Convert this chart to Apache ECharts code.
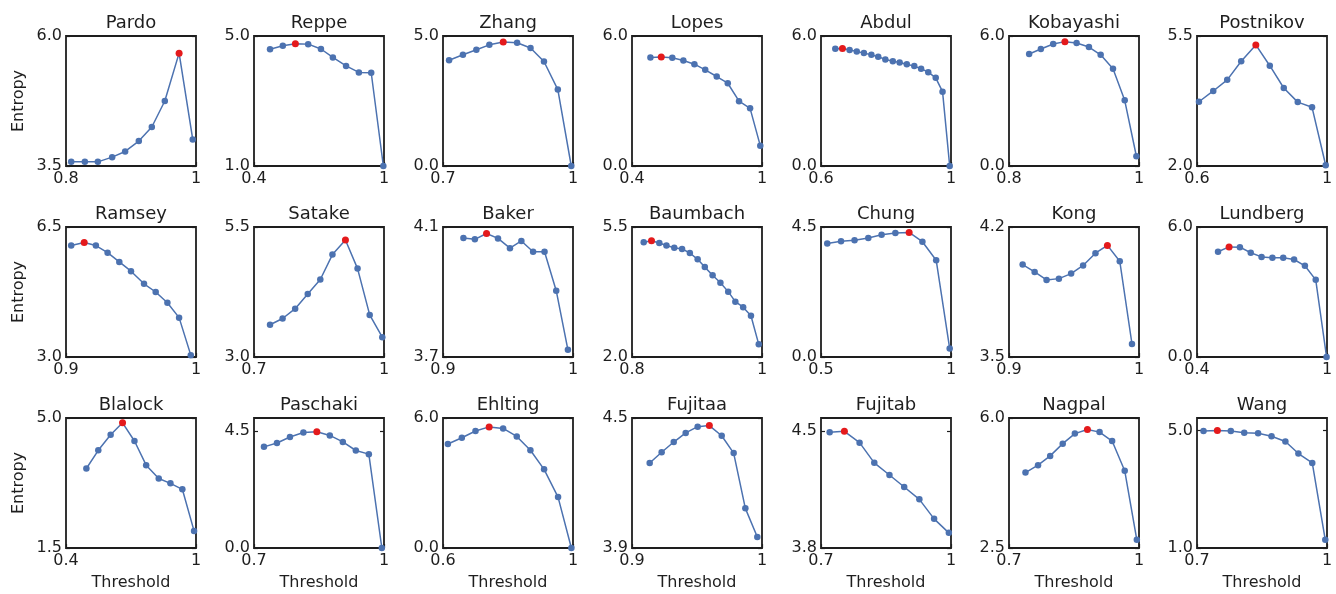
<!DOCTYPE html>
<html>
<head>
<meta charset="utf-8">
<script src="https://cdn.jsdelivr.net/npm/echarts@6/dist/echarts.min.js"></script>
<style>
  html, body { margin: 0; padding: 0; background: #fff; }
  #chart { width: 1336px; height: 594px; }
</style>
</head>
<body>
<div id="chart"></div>
<script>
// Entropy of each dataset as the similarity threshold varies.
const panelNames = [
  'Pardo', 'Reppe', 'Zhang', 'Lopes', 'Abdul', 'Kobayashi', 'Postnikov',
  'Ramsey', 'Satake', 'Baker', 'Baumbach', 'Chung', 'Kong', 'Lundberg',
  'Blalock', 'Paschaki', 'Ehlting', 'Fujitaa', 'Fujitab', 'Nagpal', 'Wang'
];

// Axis ranges: lower x bound, lower y bound, highest labelled y tick, top of y range
const xMin = [0.8, 0.4, 0.7, 0.4, 0.6, 0.8, 0.6,
              0.9, 0.7, 0.9, 0.8, 0.5, 0.9, 0.4,
              0.4, 0.7, 0.6, 0.9, 0.7, 0.7, 0.7];
const yMin = [3.5, 1.0, 0.0, 0.0, 0.0, 0.0, 2.0,
              3.0, 3.0, 3.7, 2.0, 0.0, 3.5, 0.0,
              1.5, 0.0, 0.0, 3.9, 3.8, 2.5, 1.0];
const yTickMax = [6.0, 5.0, 5.0, 6.0, 6.0, 6.0, 5.5,
                  6.5, 5.5, 4.1, 5.5, 4.5, 4.2, 6.0,
                  5.0, 4.5, 6.0, 4.5, 4.5, 6.0, 5.0];
const yAxisMax = [6.0, 5.0, 5.0, 6.0, 6.0, 6.0, 5.5,
                  6.5, 5.5, 4.1, 5.5, 4.5, 4.2, 6.0,
                  5.0, 5.0, 6.0, 4.5, 4.58, 6.0, 5.43];

const thresholds = [
  [0.808, 0.829, 0.849, 0.871, 0.891, 0.912, 0.932, 0.952, 0.974, 0.995],
  [0.474, 0.533, 0.591, 0.650, 0.709, 0.764, 0.825, 0.884, 0.941, 0.997],
  [0.714, 0.746, 0.777, 0.807, 0.839, 0.871, 0.902, 0.933, 0.965, 0.996],
  [0.485, 0.535, 0.586, 0.637, 0.688, 0.738, 0.791, 0.842, 0.894, 0.945, 0.992],
  [0.644, 0.666, 0.688, 0.710, 0.732, 0.755, 0.776, 0.798, 0.821, 0.842, 0.864, 0.887, 0.908, 0.930, 0.953, 0.974, 0.996],
  [0.831, 0.849, 0.868, 0.886, 0.904, 0.923, 0.941, 0.960, 0.978, 0.996],
  [0.606, 0.650, 0.693, 0.736, 0.781, 0.824, 0.867, 0.910, 0.954, 0.996],
  [0.904, 0.914, 0.923, 0.932, 0.941, 0.950, 0.960, 0.969, 0.978, 0.987, 0.996],
  [0.737, 0.766, 0.795, 0.824, 0.853, 0.881, 0.911, 0.939, 0.967, 0.996],
  [0.9157, 0.9245, 0.9335, 0.9423, 0.9515, 0.9603, 0.9693, 0.9781, 0.9871, 0.9961],
  [0.818, 0.830, 0.842, 0.853, 0.865, 0.877, 0.889, 0.901, 0.912, 0.924, 0.936, 0.948, 0.959, 0.971, 0.983, 0.995],
  [0.524, 0.577, 0.629, 0.682, 0.733, 0.786, 0.839, 0.890, 0.943, 0.995],
  [0.9105, 0.9197, 0.9289, 0.9384, 0.9478, 0.9570, 0.9665, 0.9757, 0.9852, 0.9946],
  [0.497, 0.548, 0.598, 0.648, 0.698, 0.748, 0.798, 0.848, 0.898, 0.948, 0.998],
  [0.494, 0.549, 0.606, 0.661, 0.716, 0.770, 0.828, 0.882, 0.937, 0.991],
  [0.723, 0.753, 0.783, 0.814, 0.845, 0.875, 0.905, 0.935, 0.965, 0.995],
  [0.615, 0.658, 0.700, 0.742, 0.785, 0.827, 0.869, 0.911, 0.954, 0.995],
  [0.9136, 0.9228, 0.9321, 0.9413, 0.9505, 0.9595, 0.9690, 0.9782, 0.9872, 0.9964],
  [0.720, 0.754, 0.789, 0.823, 0.858, 0.892, 0.927, 0.961, 0.995],
  [0.738, 0.767, 0.795, 0.824, 0.852, 0.881, 0.909, 0.938, 0.967, 0.995],
  [0.715, 0.747, 0.778, 0.809, 0.841, 0.872, 0.904, 0.934, 0.966, 0.996]
];

const entropy = [
  [3.58, 3.58, 3.58, 3.67, 3.78, 3.98, 4.25, 4.75, 5.67, 4.01],
  [4.59, 4.70, 4.76, 4.75, 4.60, 4.34, 4.08, 3.88, 3.87, 1.00],
  [4.07, 4.28, 4.47, 4.66, 4.77, 4.74, 4.54, 4.02, 2.94, 0.00],
  [5.01, 5.03, 5.00, 4.87, 4.70, 4.44, 4.13, 3.82, 2.99, 2.66, 0.94],
  [5.41, 5.42, 5.35, 5.29, 5.21, 5.13, 5.04, 4.92, 4.84, 4.78, 4.70, 4.61, 4.49, 4.33, 4.07, 3.43, 0.00],
  [5.17, 5.40, 5.63, 5.74, 5.68, 5.49, 5.13, 4.49, 3.03, 0.45],
  [3.73, 4.02, 4.32, 4.82, 5.26, 4.70, 4.10, 3.72, 3.58, 2.02],
  [6.00, 6.08, 6.00, 5.81, 5.56, 5.31, 4.97, 4.75, 4.46, 4.06, 3.05],
  [3.62, 3.74, 3.93, 4.21, 4.49, 4.97, 5.25, 4.70, 3.81, 3.38],
  [4.066, 4.062, 4.080, 4.065, 4.035, 4.057, 4.024, 4.024, 3.904, 3.722],
  [5.09, 5.13, 5.07, 5.00, 4.94, 4.91, 4.80, 4.63, 4.42, 4.20, 4.00, 3.76, 3.49, 3.34, 3.11, 2.34],
  [3.93, 4.01, 4.04, 4.12, 4.23, 4.29, 4.31, 3.99, 3.35, 0.29],
  [3.998, 3.958, 3.915, 3.922, 3.949, 3.993, 4.059, 4.101, 4.016, 3.570],
  [4.86, 5.08, 5.07, 4.81, 4.62, 4.58, 4.58, 4.50, 4.21, 3.56, 0.00],
  [3.64, 4.13, 4.55, 4.87, 4.38, 3.73, 3.37, 3.24, 3.08, 1.96],
  [3.89, 4.04, 4.27, 4.44, 4.47, 4.33, 4.08, 3.75, 3.61, 0.00],
  [4.80, 5.09, 5.40, 5.59, 5.52, 5.15, 4.51, 3.63, 2.35, 0.00],
  [4.292, 4.342, 4.389, 4.431, 4.460, 4.465, 4.418, 4.338, 4.083, 3.951],
  [4.495, 4.500, 4.432, 4.311, 4.238, 4.166, 4.092, 3.975, 3.891],
  [4.53, 4.73, 4.98, 5.31, 5.58, 5.69, 5.62, 5.38, 4.58, 2.72],
  [4.99, 5.00, 4.99, 4.93, 4.91, 4.81, 4.63, 4.22, 3.90, 1.28]
];

const FONT = 'DejaVu Sans';
const TEXT = '#1e1e1e';
const FRAME = '#1e1e1e';
const LINE = '#4c72b0';
const PEAK = '#e41a1c';
const COLS = 7;
const colLeft = [66, 254, 443, 632, 821, 1009, 1197];
const rowTop = [36, 227, 418];
const W = 130, H = 130;

const fmtX = v => (v === 1 ? '1' : v.toFixed(1));
const fmtY = v => v.toFixed(1);

const grid = [], title = [], xAxis = [], yAxis = [], yAxisRight = [], series = [];

panelNames.forEach((name, i) => {
  const r = Math.floor(i / COLS), c = i % COLS;
  const left = colLeft[c], top = rowTop[r];

  grid.push({
    left: left, top: top, width: W, height: H,
    show: true, borderColor: FRAME, borderWidth: 1.8, backgroundColor: 'transparent'
  });

  title.push({
    text: name, left: left + W / 2, top: top - 22, textAlign: 'center', padding: 0,
    textStyle: { fontFamily: FONT, fontSize: 18, fontWeight: 'normal', color: TEXT }
  });

  const xTicks = [xMin[i], 1];
  xAxis.push({
    type: 'value', gridIndex: i, min: xMin[i], max: 1,
    axisLine: { show: false }, splitLine: { show: false },
    axisTick: { show: true, inside: true, length: 4, customValues: xTicks, lineStyle: { color: FRAME, width: 1.2 } },
    axisLabel: { customValues: xTicks, margin: 5, fontFamily: FONT, fontSize: 16, color: TEXT, formatter: fmtX },
    name: r === 2 ? 'Threshold' : '', nameLocation: 'middle', nameGap: 27,
    nameTextStyle: { fontFamily: FONT, fontSize: 16, color: TEXT }
  });

  const yTicks = [yMin[i], yTickMax[i]];
  yAxis.push({
    type: 'value', gridIndex: i, position: 'left', min: yMin[i], max: yAxisMax[i],
    axisLine: { show: false }, splitLine: { show: false },
    axisTick: { show: true, inside: true, length: 4, customValues: yTicks, lineStyle: { color: FRAME, width: 1.2 } },
    axisLabel: { customValues: yTicks, margin: 4, fontFamily: FONT, fontSize: 16, color: TEXT, formatter: fmtY },
    name: c === 0 ? 'Entropy' : '', nameLocation: 'middle', nameGap: 39, nameRotate: 90,
    nameTextStyle: { fontFamily: FONT, fontSize: 16, color: TEXT }
  });
  yAxisRight.push({
    type: 'value', gridIndex: i, position: 'right', min: yMin[i], max: yAxisMax[i],
    axisLine: { show: false }, splitLine: { show: false }, axisLabel: { show: false },
    axisTick: { show: true, inside: true, length: 4, customValues: yTicks, lineStyle: { color: FRAME, width: 1.2 } }
  });

  // highlight the threshold with the highest entropy
  const ys = entropy[i];
  const peak = ys.indexOf(Math.max(...ys));
  const data = thresholds[i].map((x, k) => k === peak
    ? { value: [x, ys[k]], itemStyle: { color: PEAK }, symbolSize: 7, z: 5 }
    : [x, ys[k]]);

  series.push({
    type: 'line', xAxisIndex: i, yAxisIndex: i, data: data,
    symbol: 'circle', symbolSize: 6.5, showSymbol: true, clip: false,
    lineStyle: { color: LINE, width: 1.5 }, itemStyle: { color: LINE },
    emphasis: { disabled: true }
  });
});

const chart = echarts.init(document.getElementById('chart'), null, { renderer: 'canvas' });
chart.setOption({
  animation: false,
  backgroundColor: '#fff',
  title: title,
  grid: grid,
  xAxis: xAxis,
  yAxis: yAxis.concat(yAxisRight),
  series: series
});
</script>
</body>
</html>
